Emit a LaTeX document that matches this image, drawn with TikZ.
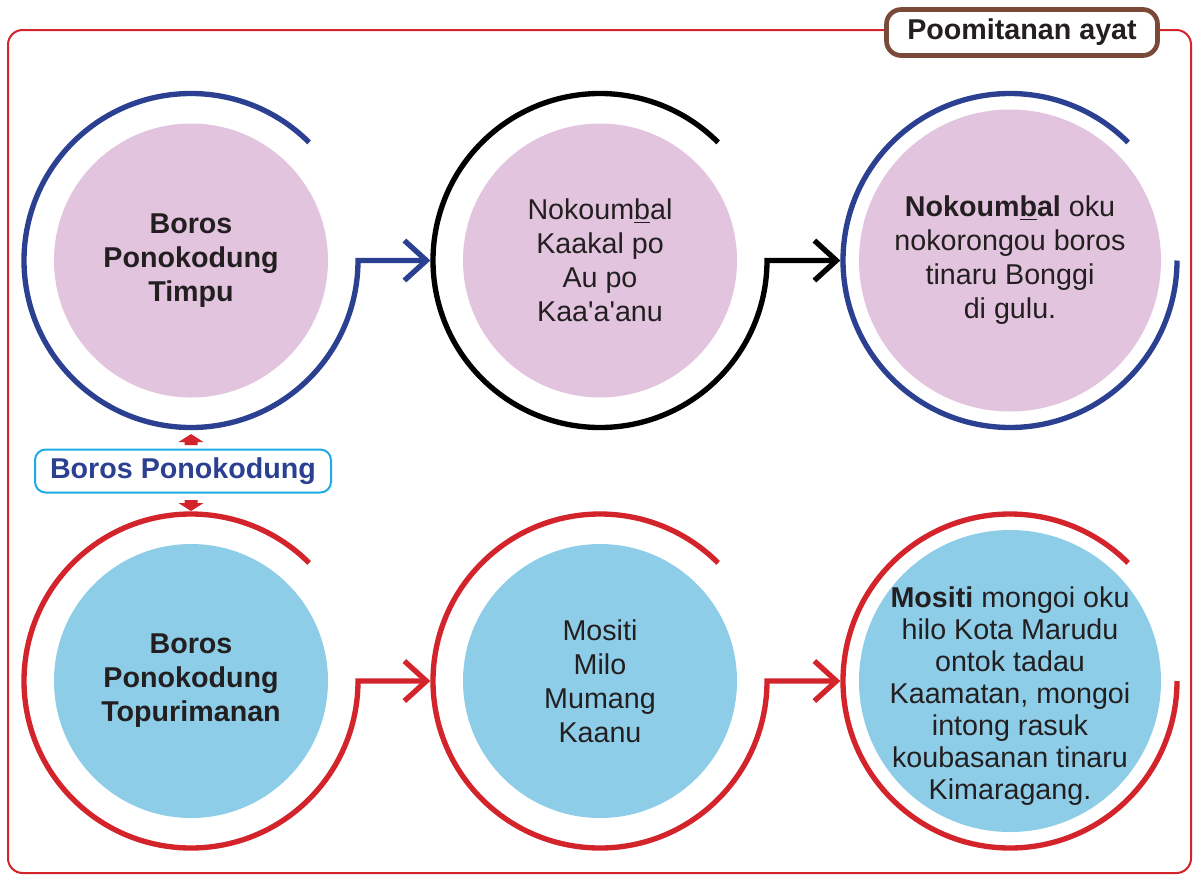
\documentclass[tikz,border=0pt]{standalone}
\usepackage{fontspec}
\setmainfont{Liberation Sans}
\usetikzlibrary{arrows.meta}
\definecolor{ringblue}{RGB}{43,64,145}
\definecolor{ringred}{RGB}{211,36,44}
\definecolor{discpink}{RGB}{226,196,222}
\definecolor{discsky}{RGB}{142,205,232}
\definecolor{tagbrown}{RGB}{122,74,56}
\definecolor{tagcyan}{RGB}{30,170,230}
\definecolor{inktext}{RGB}{35,31,32}

\begin{document}
\begin{tikzpicture}[x=0.75pt,y=-0.75pt,
  every node/.style={font=\fontsize{21.5pt}{25.5pt}\selectfont,text=inktext,align=center},
  boldtxt/.style={font=\fontsize{21.5pt}{25.5pt}\selectfont\bfseries},
  disc/.style={circle,minimum size=205.5pt,inner sep=0pt,outer sep=22.5pt},
  bigdisc/.style={circle,minimum size=226.5pt,inner sep=0pt,outer sep=12pt},
  ringline/.style={line width=4pt},
  flow/.style={ringline,-{Straight Barb[length=16.5pt,width=30pt]},shorten >=2pt}]
  \useasboundingbox (0,0) rectangle (1194,875);
  \draw[ringred,line width=1.5pt,rounded corners=11pt] (8,30) rectangle (1191,873);
  \node[draw=tagbrown,line width=3.5pt,rounded corners=11pt,fill=white,minimum width=203.25pt,minimum height=34.5pt,boldtxt] (ayat) at (1022,32.5) {Poomitanan ayat};
  % top row
  \node[disc,fill=discpink,boldtxt] (timpu) at (191,260.5) {Boros\\Ponokodung\\Timpu};
  \node[disc,fill=discpink] (kaakal) at (600,260.5) {Nokoum\underline{b}al\\Kaakal po\\Au po\\Kaa\textquotesingle a\textquotesingle anu};
  \node[bigdisc,fill=discpink] (bonggi) at (1010,260.5) {\textbf{Nokoum\underline{b}al} oku\\nokorongou boros\\tinaru Bonggi\\di gulu.};
  \draw[ringblue,flow] (timpu.45) arc[start angle=45,end angle=360,radius=125.25pt] -- (kaakal.west);
  \draw[black,flow] (kaakal.45) arc[start angle=45,end angle=360,radius=125.25pt] -- (bonggi.west);
  \draw[ringblue,ringline] (bonggi.45) arc[start angle=45,end angle=360,radius=125.25pt];
  % label between the rows
  \node[draw=tagcyan,line width=1.5pt,rounded corners=8pt,fill=white,minimum width=222pt,minimum height=32.25pt,boldtxt,text=ringblue] (ponokodung) at (183,471) {Boros Ponokodung};
  % bottom row
  \node[disc,fill=discsky,boldtxt] (topuri) at (191,681) {Boros\\Ponokodung\\Topurimanan};
  \node[disc,fill=discsky] (mumang) at (600,681) {Mositi\\Milo\\Mumang\\Kaanu};
  \node[bigdisc,fill=discsky] (kimaragang) at (1010,681) {};
  \node[font=\fontsize{21.5pt}{24pt}\selectfont] (mositi) at ([yshift=-11pt]kimaragang.center) {\textbf{Mositi} mongoi oku\\hilo Kota Marudu\\ontok tadau\\Kaamatan, mongoi\\intong rasuk\\koubasanan tinaru\\Kimaragang.};
  \draw[ringred,flow] (topuri.45) arc[start angle=45,end angle=360,radius=125.25pt] -- (mumang.west);
  \draw[ringred,flow] (mumang.45) arc[start angle=45,end angle=360,radius=125.25pt] -- (kimaragang.west);
  \draw[ringred,ringline] (kimaragang.45) arc[start angle=45,end angle=360,radius=125.25pt];
  % small arrows from the label
  \coordinate (upfoot) at (ponokodung.north -| timpu.center);
  \coordinate (downfoot) at (ponokodung.south -| topuri.center);
  \fill[ringred] ([yshift=2.6pt]upfoot) ++(-6.5,0) -- ++(0,-3) -- ++(-6,0) -- ++(12.5,-8) -- ++(12.5,8) -- ++(-6,0) -- ++(0,3) -- cycle;
  \fill[ringred] ([yshift=-4.9pt]downfoot) ++(-6.5,0) -- ++(0,3) -- ++(-6,0) -- ++(12.5,8) -- ++(12.5,-8) -- ++(-6,0) -- ++(0,-3) -- cycle;
\end{tikzpicture}
\end{document}
